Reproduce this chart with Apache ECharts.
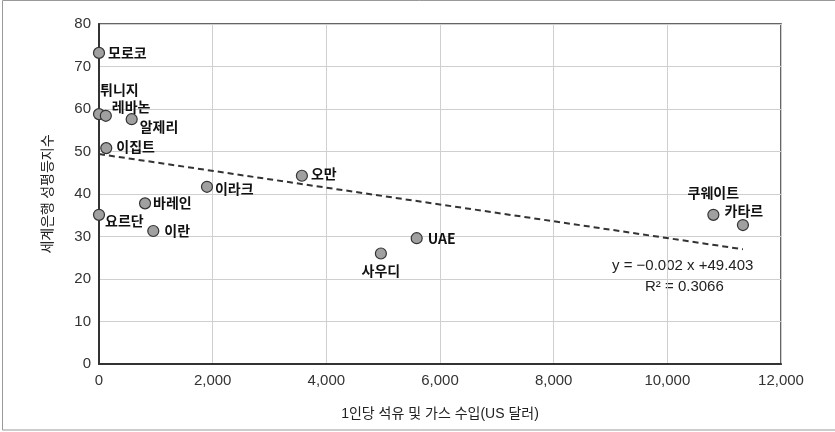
<!DOCTYPE html>
<html><head><meta charset="utf-8">
<script src="https://cdn.jsdelivr.net/npm/echarts@6/dist/echarts.min.js"></script>
<style>html,body{margin:0;padding:0;background:#fff;}#c{width:835px;height:432px;}</style>
</head><body><div id="c"></div>
<script>
const countries = ['모로코','튀니지','레바논','알제리','이집트','오만','이라크','바레인','요르단','이란','사우디','UAE','쿠웨이트','카타르'];
const income = [0, 0, 120, 575, 128, 3570, 1900, 810, 0, 955, 4960, 5590, 10810, 11330];
const genderIndex = [73.2, 58.8, 58.4, 57.6, 50.8, 44.3, 41.7, 37.8, 35.1, 31.3, 26.0, 29.6, 35.1, 32.7];
const trendX = [0, 11330];
const trendY = [49.4, 27.0];
const xTicks = [0, 2000, 4000, 6000, 8000, 10000, 12000];
const yTicks = [0, 10, 20, 30, 40, 50, 60, 70, 80];
const xName = '1인당 석유 및 가스 수입(US 달러)';
const yName = '세계은행 성평등지수';
const eqLine1 = 'y = −0.002 x +49.403';
const eqLine2 = 'R² = 0.3066';

// label placement (style only): [dx, dy, align]
const labelPlace = {
  '모로코':[9,0,'left'], '튀니지':[1,-24,'left'], '레바논':[6,-9,'left'], '알제리':[8,7,'left'],
  '이집트':[10,-1,'left'], '오만':[9,-2,'left'], '이라크':[8,2,'left'], '바레인':[8,-1,'left'],
  '요르단':[6,6,'left'], '이란':[11,0,'left'], '사우디':[0,17,'center'], 'UAE':[11,0,'left'],
  '쿠웨이트':[0,-22,'center'], '카타르':[1,-14,'center']
};

const fontLatin = '"Liberation Sans", "Noto Sans CJK KR", sans-serif';
const fontKr = '"Noto Sans CJK KR", "Liberation Sans", sans-serif';

const pts = countries.map((c, i) => {
  const p = labelPlace[c];
  return {
    name: c,
    value: [income[i], genderIndex[i]],
    label: {
      show: true, position: 'inside', formatter: c,
      offset: [p[0], p[1]], align: p[2], verticalAlign: 'middle',
      fontFamily: fontKr, fontWeight: 'bold', fontSize: 14, color: '#111'
    }
  };
});

const chart = echarts.init(document.getElementById('c'), null, {renderer: 'canvas'});
chart.setOption({
  animation: false,
  backgroundColor: '#fff',
  grid: {left: 99, right: 54, top: 24, bottom: 68, show: true, borderColor: '#333', borderWidth: 1.5, backgroundColor: 'transparent'},
  xAxis: {
    type: 'value', min: xTicks[0], max: xTicks[xTicks.length-1], interval: 2000,
    name: xName, nameLocation: 'middle', nameGap: 43,
    nameTextStyle: {fontFamily: fontLatin, fontSize: 14, color: '#222'},
    axisLine: {show: true, onZero: false, lineStyle: {color: '#333', width: 2}},
    axisTick: {show: false},
    axisLabel: {fontFamily: fontLatin, fontSize: 15, color: '#333', margin: 9,
      formatter: v => v.toLocaleString('en-US')},
    splitLine: {show: true, lineStyle: {color: '#cfcfcf', width: 1}}
  },
  yAxis: {
    type: 'value', min: yTicks[0], max: yTicks[yTicks.length-1], interval: 10,
    name: yName, nameLocation: 'middle', nameGap: 45, nameRotate: 90,
    nameTextStyle: {fontFamily: fontKr, fontSize: 14, color: '#222'},
    axisLine: {show: true, onZero: false, lineStyle: {color: '#333', width: 2}},
    axisTick: {show: false},
    axisLabel: {fontFamily: fontLatin, fontSize: 15, color: '#333', margin: 8},
    splitLine: {show: true, lineStyle: {color: '#cfcfcf', width: 1}}
  },
  series: [
    {
      type: 'line', data: trendX.map((x, i) => [x, trendY[i]]), symbol: 'none',
      lineStyle: {color: '#333', width: 2, type: [6, 4]}, z: 2, silent: true
    },
    {
      type: 'scatter', data: pts, symbol: 'circle', symbolSize: 11,
      itemStyle: {color: '#a0a0a0', borderColor: '#333', borderWidth: 1.2, opacity: 1}, z: 3
    }
  ],
  graphic: [
    {type: 'rect', shape: {x: 2.5, y: 0.5, width: 900, height: 429.5}, style: {fill: 'none', stroke: '#999', lineWidth: 1}, silent: true, z: 0},
    {type: 'text', left: 612, top: 258, style: {text: eqLine1, font: '15px "Liberation Sans", sans-serif', fill: '#222'}},
    {type: 'text', left: 645, top: 279, style: {text: eqLine2, font: '15px "Liberation Sans", sans-serif', fill: '#222'}}
  ]
});
</script>
</body></html>
